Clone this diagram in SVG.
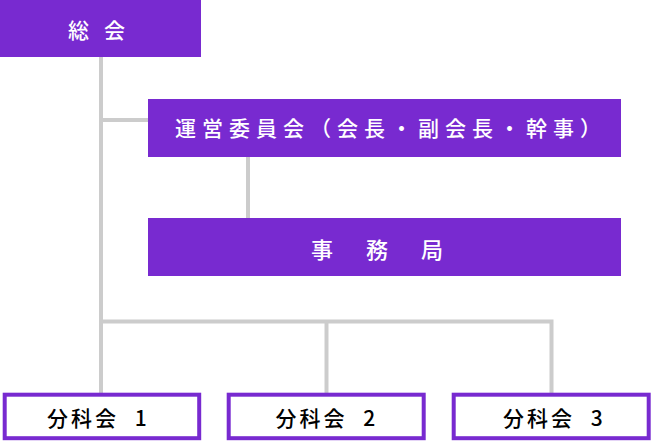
<svg xmlns="http://www.w3.org/2000/svg" width="652" height="442" viewBox="0 0 652 442">
<style>
.fill{fill:#782ad0;}
.outline{fill:#ffffff;stroke:#782ad0;stroke-width:4;}
.wt{fill:#ffffff;font-family:"Noto Sans CJK JP","Noto Sans",sans-serif;font-weight:500;dominant-baseline:central;}
.bt{fill:#000000;font-family:"Noto Sans CJK JP","Noto Sans",sans-serif;font-weight:500;font-size:21px;dominant-baseline:central;letter-spacing:3px;}
.ln{stroke:#cccccc;stroke-width:4;fill:none;}
</style>
<rect width="652" height="442" fill="#ffffff"/>
<g id="connectors">
<line class="ln" x1="101" y1="57" x2="101" y2="393"/>
<line class="ln" x1="101" y1="120" x2="148" y2="120"/>
<line class="ln" x1="248" y1="156" x2="248" y2="218"/>
<polyline class="ln" points="101,321.5 551.5,321.5 551.5,393"/>
<line class="ln" x1="326.5" y1="321.5" x2="326.5" y2="393"/>
</g>
<g id="soukai">
<rect class="fill" x="0" y="0" width="201" height="57"/>
<text class="wt" x="68" y="29" font-size="21" letter-spacing="15">総会</text>
</g>
<g id="unei">
<rect class="fill" x="148" y="99" width="473" height="58"/>
<text class="wt" x="175" y="127" font-size="21" letter-spacing="6">運営委員会（会長・副会長・幹事）</text>
</g>
<g id="jimukyoku">
<rect class="fill" x="148" y="218" width="473" height="58"/>
<text class="wt" x="311" y="247.5" font-size="22" letter-spacing="33">事務局</text>
</g>
<g id="bunkakai1">
<rect class="outline" x="4.7" y="394.7" width="194.5" height="43.5"/>
<text class="bt" x="47" y="416.5">分科会 <tspan dx="8">1</tspan></text>
</g>
<g id="bunkakai2">
<rect class="outline" x="228.7" y="394.7" width="195" height="43.5"/>
<text class="bt" x="275.5" y="416.5">分科会 <tspan dx="8">2</tspan></text>
</g>
<g id="bunkakai3">
<rect class="outline" x="453.7" y="394.7" width="195" height="43.5"/>
<text class="bt" x="503" y="416.5">分科会 <tspan dx="8">3</tspan></text>
</g>
</svg>
